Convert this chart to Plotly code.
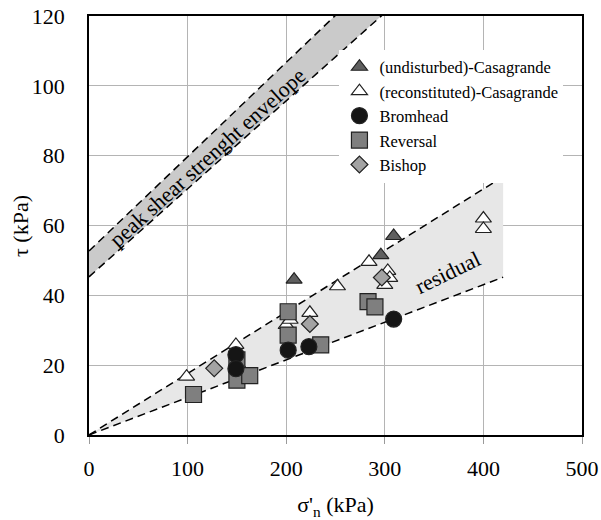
import plotly.graph_objects as go

# Test results: normal effective stress (kPa) and shear stress (kPa)
undisturbed_sigma = [208, 296, 309]
undisturbed_tau = [44.5, 51.5, 57.0]

reconstituted_sigma = [99, 149, 153, 200, 204, 224, 252, 284, 300, 303, 305, 400, 400]
reconstituted_tau = [16.7, 25.8, 19.5, 31.5, 33.0, 35.0, 42.6, 49.6, 43.0, 47.0, 45.0, 62.0, 59.0]

bromhead_sigma = [149, 149, 202, 223, 309]
bromhead_tau = [23.0, 19.0, 24.3, 25.3, 33.2]

reversal_sigma = [106, 150, 150, 163, 202, 202, 235, 283, 290]
reversal_tau = [11.6, 15.7, 21.5, 17.0, 35.3, 28.6, 25.8, 38.2, 36.7]

bishop_sigma = [127, 224, 297]
bishop_tau = [19.1, 31.8, 45.1]

# Strength envelopes (end points of straight lines)
peak_sigma = [0, 300]
peak_upper = [52.7, 133.7]
peak_lower = [45.3, 120.9]

residual_sigma = [0, 420]
residual_upper = [0, 74.0]
residual_lower = [0, 45.2]

x_ticks = [0, 100, 200, 300, 400, 500]
y_ticks = [0, 20, 40, 60, 80, 100, 120]

FONT = "Liberation Serif, Times New Roman, serif"
dash_line = dict(color="black", width=1.5, dash="8px,5px")

fig = go.Figure()

# Peak envelope band
fig.add_trace(go.Scatter(x=peak_sigma, y=peak_lower, mode="lines", line=dash_line,
                         showlegend=False, hoverinfo="skip"))
fig.add_trace(go.Scatter(x=peak_sigma, y=peak_upper, mode="lines", line=dash_line,
                         fill="tonexty", fillcolor="#cacaca",
                         showlegend=False, hoverinfo="skip"))

# Residual envelope band
fig.add_trace(go.Scatter(x=residual_sigma, y=residual_lower, mode="lines", line=dash_line,
                         showlegend=False, hoverinfo="skip"))
fig.add_trace(go.Scatter(x=residual_sigma, y=residual_upper, mode="lines", line=dash_line,
                         fill="tonexty", fillcolor="#e7e7e7",
                         showlegend=False, hoverinfo="skip"))

outline = dict(color="#222222", width=1.2)

fig.add_trace(go.Scatter(
    x=reconstituted_sigma, y=reconstituted_tau, mode="markers",
    name="(reconstituted)-Casagrande", legendrank=2,
    marker=dict(symbol="triangle-up", size=14, color="white", line=outline)))
fig.add_trace(go.Scatter(
    x=undisturbed_sigma, y=undisturbed_tau, mode="markers",
    name="(undisturbed)-Casagrande", legendrank=1,
    marker=dict(symbol="triangle-up", size=14, color="#5f5f5f", line=outline)))
fig.add_trace(go.Scatter(
    x=reversal_sigma, y=reversal_tau, mode="markers",
    name="Reversal", legendrank=4,
    marker=dict(symbol="square", size=16, color="#7f7f7f", line=outline)))
fig.add_trace(go.Scatter(
    x=bishop_sigma, y=bishop_tau, mode="markers",
    name="Bishop", legendrank=5,
    marker=dict(symbol="diamond", size=13, color="#a3a3a3", line=outline)))
fig.add_trace(go.Scatter(
    x=bromhead_sigma, y=bromhead_tau, mode="markers",
    name="Bromhead", legendrank=3,
    marker=dict(symbol="circle", size=16, color="#151515", line=outline)))

fig.add_annotation(x=120, y=79.5, text="peak shear strenght envelope", showarrow=False,
                   textangle=-42, font=dict(family=FONT, size=22, color="black"))
fig.add_annotation(x=364, y=46.5, text="residual", showarrow=False,
                   textangle=-26, font=dict(family=FONT, size=22, color="black"))

# y-axis title placed beside the tick labels
fig.add_annotation(xref="paper", yref="paper", x=-0.139, y=0.5, text="τ (kPa)",
                   xanchor="center", yanchor="middle",
                   showarrow=False, textangle=-90,
                   font=dict(family=FONT, size=22, color="black"))

axis_common = dict(
    showgrid=True, gridcolor="#b4b4b4", gridwidth=1,
    showline=True, linecolor="black", linewidth=1.5, mirror=True,
    zeroline=False, automargin=False,
    tickfont=dict(family=FONT, size=22, color="black"),
)

fig.update_xaxes(range=[0, 500], tickvals=x_ticks, ticks="outside", ticklen=7,
                 tickcolor="#9a9a9a", ticklabelstandoff=6,
                 title=dict(text="σ'<sub>n</sub> (kPa)", font=dict(family=FONT, size=22, color="black"),
                            standoff=22),
                 **axis_common)
# long invisible major ticks push the labels out; short grey minor ticks are the visible marks
fig.update_yaxes(range=[0, 120], tickvals=y_ticks, ticks="outside", ticklen=18,
                 tickcolor="white",
                 minor=dict(tickvals=y_ticks, ticks="outside", ticklen=7,
                            tickcolor="#9a9a9a", showgrid=False),
                 **axis_common)

fig.update_layout(
    width=601, height=520,
    margin=dict(l=89, r=19, t=16, b=85),
    plot_bgcolor="white", paper_bgcolor="white",
    font=dict(family=FONT, color="black"),
    legend=dict(x=0.508, y=0.92, xanchor="left", yanchor="top",
                bgcolor="white", borderwidth=0, traceorder="normal",
                font=dict(family=FONT, size=16.5, color="black"),
                tracegroupgap=0, itemwidth=30),
)

fig.write_html("out.html")
